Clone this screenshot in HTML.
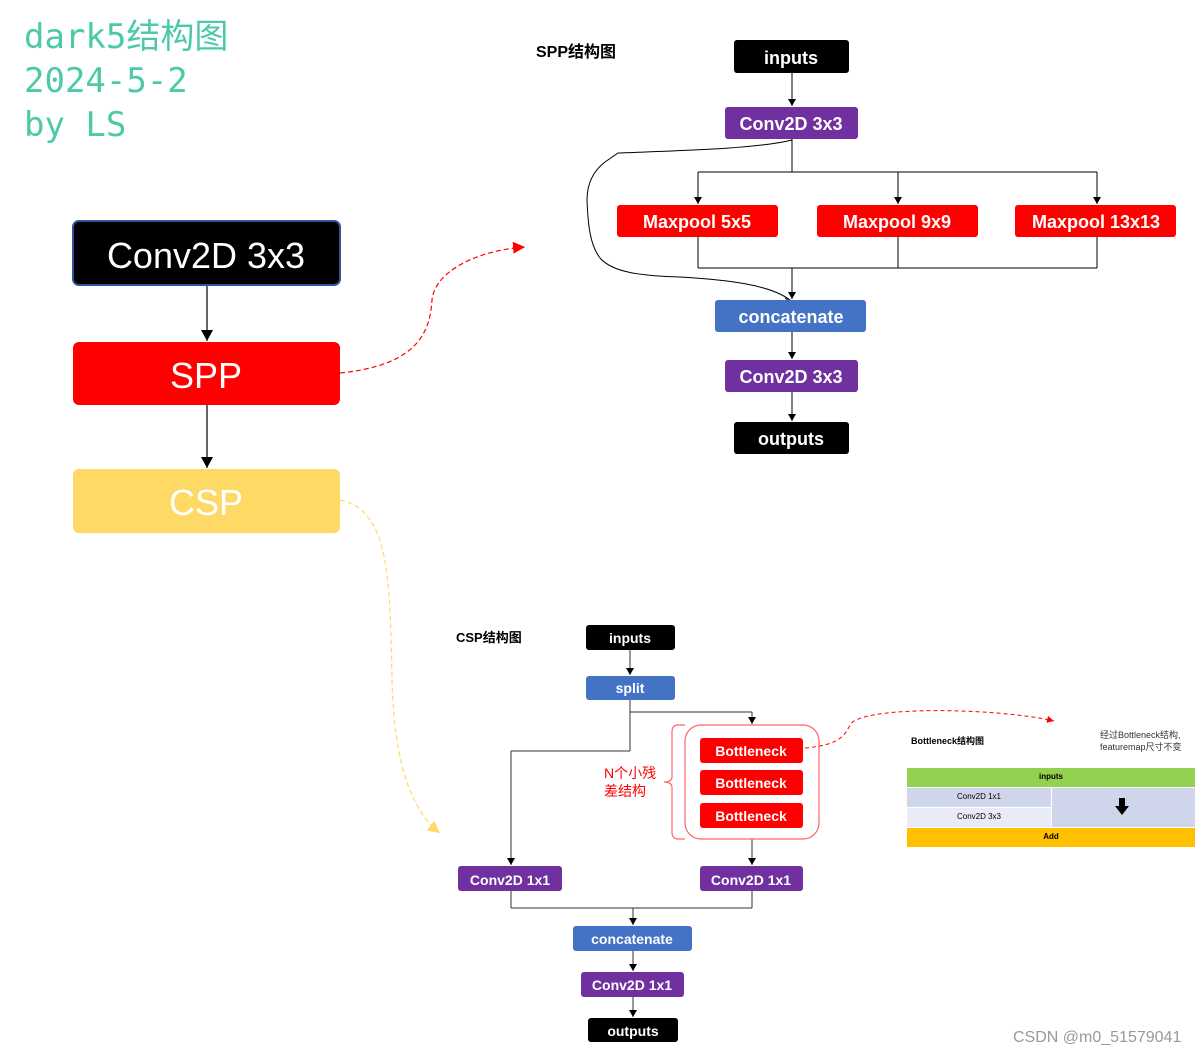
<!DOCTYPE html>
<html><head><meta charset="utf-8"><style>
html,body{margin:0;padding:0;background:#fff;}
svg{display:block;}
text{font-family:"Liberation Sans","Noto Sans CJK SC",sans-serif;}
</style></head><body>
<svg width="1204" height="1054" viewBox="0 0 1204 1054" xmlns="http://www.w3.org/2000/svg">
<defs>
<marker id="a" markerWidth="8" markerHeight="8" refX="7" refY="4" orient="auto" markerUnits="userSpaceOnUse"><path d="M0,0 L7,4 L0,8 z" fill="#000"/></marker>
<marker id="ab" markerWidth="12" markerHeight="12" refX="11" refY="6" orient="auto" markerUnits="userSpaceOnUse"><path d="M0,0 L11,6 L0,12 z" fill="#000"/></marker>
<marker id="ar" markerWidth="14" markerHeight="14" refX="12" refY="6" orient="auto" markerUnits="userSpaceOnUse"><path d="M0,0 L12,6 L0,12 z" fill="#f00"/></marker>
<marker id="ar2" markerWidth="8" markerHeight="8" refX="7" refY="3.5" orient="auto" markerUnits="userSpaceOnUse"><path d="M0,0 L7,3.5 L0,7 z" fill="#f00"/></marker>
<marker id="ay" markerWidth="14" markerHeight="14" refX="12" refY="6" orient="auto" markerUnits="userSpaceOnUse"><path d="M0,0 L12,6 L0,12 z" fill="#ffd966"/></marker>
</defs>

<g font-size="34" fill="#4ec9a8">
<text x="24" y="48" style="font-family:'DejaVu Sans Mono','Noto Sans CJK SC',monospace">dark5结构图</text>
<text x="24" y="92" style="font-family:'DejaVu Sans Mono',monospace">2024-5-2</text>
<text x="24" y="136" style="font-family:'DejaVu Sans Mono',monospace">by LS</text>
</g>

<rect x="73" y="221" width="267" height="64" rx="6" fill="#000" stroke="#2f5597" stroke-width="2"/>
<text x="206" y="268" font-size="36" fill="#fff" text-anchor="middle">Conv2D 3x3</text>
<line x1="207" y1="286" x2="207" y2="341" stroke="#000" stroke-width="1.2" marker-end="url(#ab)"/>
<rect x="73" y="342" width="267" height="63" rx="6" fill="#ff0000"/>
<text x="206" y="388" font-size="36" fill="#fff" text-anchor="middle">SPP</text>
<line x1="207" y1="405" x2="207" y2="468" stroke="#000" stroke-width="1.2" marker-end="url(#ab)"/>
<rect x="73" y="469" width="267" height="64" rx="6" fill="#ffd966"/>
<text x="206" y="515" font-size="36" fill="#fff" text-anchor="middle">CSP</text>

<path d="M340,373 C420,365 430,330 432,300 C435,270 480,250 525,247" fill="none" stroke="#f00" stroke-width="1.2" stroke-dasharray="5,3" marker-end="url(#ar)"/>
<path d="M340,500 C390,510 390,580 392,680 C394,760 410,810 440,833" fill="none" stroke="#ffd966" stroke-width="1.2" stroke-dasharray="5,3" marker-end="url(#ay)"/>

<text x="536" y="57" font-size="16" font-weight="bold" fill="#000">SPP结构图</text>
<g stroke="#000" stroke-width="1" fill="none">
<line x1="792" y1="73" x2="792" y2="106" marker-end="url(#a)"/>
<line x1="792" y1="139" x2="792" y2="172"/>
<line x1="698" y1="172" x2="1097" y2="172"/>
<line x1="698" y1="172" x2="698" y2="204" marker-end="url(#a)"/>
<line x1="898" y1="172" x2="898" y2="204" marker-end="url(#a)"/>
<line x1="1097" y1="172" x2="1097" y2="204" marker-end="url(#a)"/>
<line x1="698" y1="237" x2="698" y2="268"/>
<line x1="898" y1="237" x2="898" y2="268"/>
<line x1="1097" y1="237" x2="1097" y2="268"/>
<line x1="698" y1="268" x2="1097" y2="268"/>
<line x1="792" y1="268" x2="792" y2="299" marker-end="url(#a)"/>
<line x1="792" y1="332" x2="792" y2="359" marker-end="url(#a)"/>
<line x1="792" y1="392" x2="792" y2="421" marker-end="url(#a)"/>
<path d="M792,140 C760,148 700,150 618,153 L605,162 C592,172 587,185 587,200 C588,225 590,245 600,258 C612,272 640,276 680,277 C730,280 770,285 790,300 C796,304 790,302 785,298"/>
</g>
<rect x="734" y="40" width="115" height="33" rx="3" fill="#000"/>
<text x="791" y="64" font-size="18" font-weight="bold" fill="#fff" text-anchor="middle">inputs</text>
<rect x="725" y="107" width="133" height="32" rx="3" fill="#7030a0"/>
<text x="791" y="130" font-size="18" fill="#fff" text-anchor="middle" font-weight="bold">Conv2D 3x3</text>
<rect x="617" y="205" width="161" height="32" rx="3" fill="#f00"/>
<text x="697" y="228" font-size="18" fill="#fff" text-anchor="middle" font-weight="bold">Maxpool 5x5</text>
<rect x="817" y="205" width="161" height="32" rx="3" fill="#f00"/>
<text x="897" y="228" font-size="18" fill="#fff" text-anchor="middle" font-weight="bold">Maxpool 9x9</text>
<rect x="1015" y="205" width="161" height="32" rx="3" fill="#f00"/>
<text x="1096" y="228" font-size="18" fill="#fff" text-anchor="middle" font-weight="bold">Maxpool 13x13</text>
<rect x="715" y="300" width="151" height="32" rx="3" fill="#4472c4"/>
<text x="791" y="323" font-size="18" fill="#fff" text-anchor="middle" font-weight="bold">concatenate</text>
<rect x="725" y="360" width="133" height="32" rx="3" fill="#7030a0"/>
<text x="791" y="383" font-size="18" fill="#fff" text-anchor="middle" font-weight="bold">Conv2D 3x3</text>
<rect x="734" y="422" width="115" height="32" rx="3" fill="#000"/>
<text x="791" y="445" font-size="18" font-weight="bold" fill="#fff" text-anchor="middle">outputs</text>

<text x="456" y="642" font-size="13" font-weight="bold" fill="#000">CSP结构图</text>
<g stroke="#333" stroke-width="1" fill="none">
<line x1="630" y1="650" x2="630" y2="675" marker-end="url(#a)"/>
<line x1="630" y1="700" x2="630" y2="751"/>
<line x1="630" y1="712" x2="752" y2="712"/>
<line x1="752" y1="712" x2="752" y2="724" marker-end="url(#a)"/>
<line x1="630" y1="751" x2="511" y2="751"/>
<line x1="511" y1="751" x2="511" y2="865" marker-end="url(#a)"/>
<line x1="752" y1="839" x2="752" y2="865" marker-end="url(#a)"/>
<line x1="511" y1="891" x2="511" y2="908"/>
<line x1="752" y1="891" x2="752" y2="908"/>
<line x1="511" y1="908" x2="752" y2="908"/>
<line x1="633" y1="908" x2="633" y2="925" marker-end="url(#a)"/>
<line x1="633" y1="951" x2="633" y2="971" marker-end="url(#a)"/>
<line x1="633" y1="997" x2="633" y2="1017" marker-end="url(#a)"/>
</g>
<rect x="586" y="625" width="89" height="25" rx="3" fill="#000"/>
<text x="630" y="643" font-size="14" font-weight="bold" fill="#fff" text-anchor="middle">inputs</text>
<rect x="586" y="676" width="89" height="24" rx="3" fill="#4472c4"/>
<text x="630" y="693" font-size="14" font-weight="bold" fill="#fff" text-anchor="middle">split</text>
<rect x="685" y="725" width="134" height="114" rx="16" fill="none" stroke="#ff6666" stroke-width="1.2"/>
<path d="M685,725 L678,725 Q672,725 672,732 L672,777 Q672,782 664,782 Q672,782 672,788 L672,832 Q672,839 678,839 L685,839" fill="none" stroke="#ff6666" stroke-width="1.2"/>
<text x="604" y="778" font-size="14" fill="#f00">N个小残</text>
<text x="604" y="796" font-size="14" fill="#f00">差结构</text>
<rect x="700" y="738" width="103" height="25" rx="3" fill="#f00"/>
<text x="751" y="756" font-size="14" font-weight="bold" fill="#fff" text-anchor="middle">Bottleneck</text>
<rect x="700" y="770" width="103" height="25" rx="3" fill="#f00"/>
<text x="751" y="788" font-size="14" font-weight="bold" fill="#fff" text-anchor="middle">Bottleneck</text>
<rect x="700" y="803" width="103" height="25" rx="3" fill="#f00"/>
<text x="751" y="821" font-size="14" font-weight="bold" fill="#fff" text-anchor="middle">Bottleneck</text>
<path d="M805,748 C840,745 845,735 850,725 C860,705 1000,708 1054,721" fill="none" stroke="#f00" stroke-width="1" stroke-dasharray="4,3" marker-end="url(#ar2)"/>
<rect x="458" y="866" width="104" height="25" rx="3" fill="#7030a0"/>
<text x="510" y="885" font-size="14" font-weight="bold" fill="#fff" text-anchor="middle">Conv2D 1x1</text>
<rect x="700" y="866" width="103" height="25" rx="3" fill="#7030a0"/>
<text x="751" y="885" font-size="14" font-weight="bold" fill="#fff" text-anchor="middle">Conv2D 1x1</text>
<rect x="573" y="926" width="119" height="25" rx="3" fill="#4472c4"/>
<text x="632" y="944" font-size="14" font-weight="bold" fill="#fff" text-anchor="middle">concatenate</text>
<rect x="581" y="972" width="103" height="25" rx="3" fill="#7030a0"/>
<text x="632" y="990" font-size="14" font-weight="bold" fill="#fff" text-anchor="middle">Conv2D 1x1</text>
<rect x="588" y="1018" width="90" height="24" rx="3" fill="#000"/>
<text x="633" y="1036" font-size="14" font-weight="bold" fill="#fff" text-anchor="middle">outputs</text>

<text x="911" y="744" font-size="9" font-weight="bold" fill="#000">Bottleneck结构图</text>
<text x="1100" y="738" font-size="9" fill="#333">经过Bottleneck结构,</text>
<text x="1100" y="750" font-size="9" fill="#333">featuremap尺寸不变</text>
<rect x="907" y="768" width="288" height="19" fill="#92d050"/>
<text x="1051" y="779" font-size="8" font-weight="bold" fill="#000" text-anchor="middle">inputs</text>
<rect x="907" y="788" width="144" height="19" fill="#cfd5ea"/>
<rect x="907" y="808" width="144" height="19" fill="#e9ebf5"/>
<rect x="1052" y="788" width="143" height="39" fill="#cfd5ea"/>
<text x="979" y="799" font-size="8" fill="#000" text-anchor="middle">Conv2D 1x1</text>
<text x="979" y="819" font-size="8" fill="#000" text-anchor="middle">Conv2D 3x3</text>
<path d="M1119,798 L1125,798 L1125,806 L1129,806 L1122,815 L1115,806 L1119,806 z" fill="#000"/>
<rect x="907" y="828" width="288" height="19" fill="#ffc000"/>
<text x="1051" y="839" font-size="8" font-weight="bold" fill="#000" text-anchor="middle">Add</text>

<text x="1013" y="1042" font-size="16" fill="#999">CSDN @m0_51579041</text>
</svg>
</body></html>
